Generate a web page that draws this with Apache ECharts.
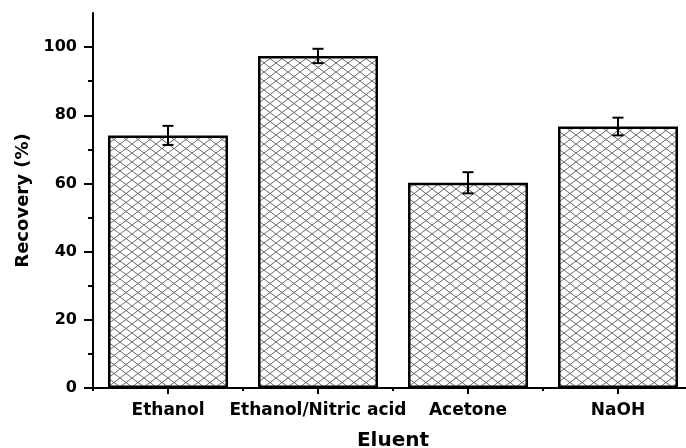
<!DOCTYPE html>
<html>
<head>
<meta charset="utf-8">
<script src="https://cdn.jsdelivr.net/npm/echarts@6/dist/echarts.min.js"></script>
<style>
  html, body { margin: 0; padding: 0; background: #fff; }
  #chart { width: 686px; height: 448px; }
</style>
</head>
<body>
<div id="chart"></div>
<script>
// Recovery of the analyte with different eluents (mean ± error)
const categories = ['Ethanol', 'Ethanol/Nitric acid', 'Acetone', 'NaOH'];
const recovery = [74.1, 97.4, 60.2, 76.7];
const recoveryError = [2.8, 2.1, 3.1, 2.6];
const yMajorTicks = [0, 20, 40, 60, 80, 100];
const yMinorTicks = [10, 30, 50, 70, 90];

const FONT = 'DejaVu Sans';

// Diamond cross-hatch tile used to fill the bars
function crossHatch() {
  const w = 12, h = 9;
  const c = document.createElement('canvas');
  c.width = w; c.height = h;
  const g = c.getContext('2d');
  g.fillStyle = '#ffffff';
  g.fillRect(0, 0, w, h);
  g.strokeStyle = '#6a6a6a';
  g.lineWidth = 1;
  g.beginPath();
  g.moveTo(-w, -h); g.lineTo(2 * w, 2 * h);
  g.moveTo(2 * w, -h); g.lineTo(-w, 2 * h);
  g.stroke();
  return c;
}

const errorData = recovery.map((v, i) => [i, v - recoveryError[i], v + recoveryError[i]]);

const chart = echarts.init(document.getElementById('chart'), null, { renderer: 'canvas' });

const axisText = { color: '#000', fontFamily: FONT, fontWeight: 'bold' };

chart.setOption({
  animation: false,
  backgroundColor: '#fff',
  grid: { left: 93, top: 13, width: 600, height: 375, containLabel: false, outerBoundsMode: 'none' },
  xAxis: [
    {
      type: 'category',
      data: categories,
      position: 'bottom',
      axisLine: { show: true, lineStyle: { color: '#000', width: 2 } },
      axisTick: { show: true, alignWithLabel: true, length: 6, lineStyle: { color: '#000', width: 2 } },
      axisLabel: Object.assign({ interval: 0, margin: 14, fontSize: 17 }, axisText),
      splitLine: { show: false },
      name: 'Eluent',
      nameLocation: 'middle',
      nameGap: 43,
      nameTextStyle: Object.assign({ fontSize: 20 }, axisText)
    },
    {
      type: 'category',
      data: categories,
      position: 'bottom',
      axisLine: { show: false },
      axisTick: { show: true, interval: 0, length: 3, lineStyle: { color: '#000', width: 2 } },
      axisLabel: { show: false },
      splitLine: { show: false }
    }
  ],
  yAxis: [
    {
      type: 'value',
      min: 0,
      max: 110,
      interval: 20,
      position: 'left',
      axisLine: { show: true, lineStyle: { color: '#000', width: 2 } },
      axisTick: { show: true, customValues: yMajorTicks, length: 9, lineStyle: { color: '#000', width: 2 } },
      axisLabel: Object.assign({ customValues: yMajorTicks, margin: 16, fontSize: 16 }, axisText),
      splitLine: { show: false },
      name: 'Recovery (%)',
      nameLocation: 'middle',
      nameGap: 58,
      nameRotate: 90,
      nameTextStyle: Object.assign({ fontSize: 18 }, axisText)
    },
    {
      type: 'value',
      min: 0,
      max: 110,
      interval: 20,
      position: 'left',
      axisLine: { show: false },
      axisTick: { show: true, customValues: yMinorTicks, length: 5, lineStyle: { color: '#000', width: 2 } },
      axisLabel: { show: false },
      splitLine: { show: false }
    }
  ],
  series: [
    {
      type: 'bar',
      xAxisIndex: 0,
      yAxisIndex: 0,
      data: recovery,
      barWidth: '80%',
      itemStyle: {
        color: { image: crossHatch(), repeat: 'repeat' },
        borderColor: '#000',
        borderWidth: 2.5
      },
      z: 2
    },
    {
      type: 'custom',
      xAxisIndex: 0,
      yAxisIndex: 0,
      data: errorData,
      z: 5,
      renderItem: function (params, api) {
        const lo = api.coord([api.value(0), api.value(1)]);
        const hi = api.coord([api.value(0), api.value(2)]);
        const cap = 5.5;
        const style = { stroke: '#000', lineWidth: 2 };
        return {
          type: 'group',
          children: [
            { type: 'line', shape: { x1: hi[0], y1: hi[1], x2: lo[0], y2: lo[1] }, style: style },
            { type: 'line', shape: { x1: hi[0] - cap, y1: hi[1], x2: hi[0] + cap, y2: hi[1] }, style: style },
            { type: 'line', shape: { x1: lo[0] - cap, y1: lo[1], x2: lo[0] + cap, y2: lo[1] }, style: style }
          ]
        };
      }
    }
  ]
});
</script>
</body>
</html>
